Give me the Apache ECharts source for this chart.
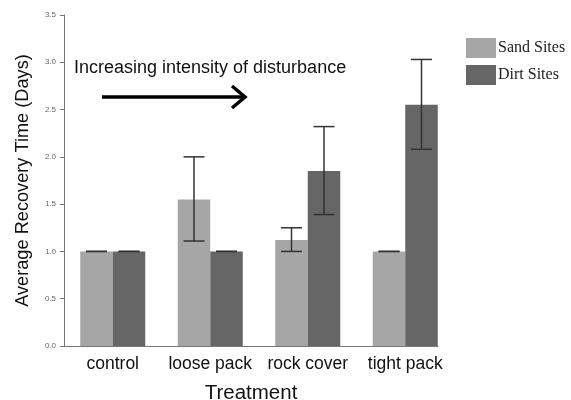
<!DOCTYPE html>
<html><head><meta charset="utf-8">
<script src="https://cdn.jsdelivr.net/npm/echarts@6/dist/echarts.min.js"></script>
<style>html,body{margin:0;padding:0;background:#fff}#c{width:571px;height:400px}</style>
</head><body><div id="c"></div>
<script>
const categories = ['control', 'loose pack', 'rock cover', 'tight pack'];
const sandValues = [1.0, 1.55, 1.12, 1.0];
const dirtValues = [1.0, 1.0, 1.85, 2.55];
const sandLow  = [1.0, 1.11, 1.0, 1.0];
const sandHigh = [1.0, 2.0, 1.25, 1.0];
const dirtLow  = [1.0, 1.0, 1.39, 2.08];
const dirtHigh = [1.0, 1.0, 2.32, 3.03];
const yTicks = [0, 0.5, 1.0, 1.5, 2.0, 2.5, 3.0, 3.5];

const font = 'Liberation Sans, Arial, sans-serif';

function errSeries(name, low, high, side) {
  return {
    type: 'custom', name: name + ' err', xAxisIndex: 0, yAxisIndex: 0, z: 5,
    data: categories.map((c, i) => [i, low[i], high[i]]),
    renderItem: function (params, api) {
      const bw = api.size([1, 0])[0];
      const off = side * bw / 6;
      const lo = api.coord([api.value(0), api.value(1)]);
      const hi = api.coord([api.value(0), api.value(2)]);
      const x = lo[0] + off, cap = 10.5;
      const st = {stroke: '#333', lineWidth: 1.5};
      return {type: 'group', children: [
        {type: 'line', shape: {x1: x, y1: lo[1], x2: x, y2: hi[1]}, style: st},
        {type: 'line', shape: {x1: x - cap, y1: lo[1], x2: x + cap, y2: lo[1]}, style: st},
        {type: 'line', shape: {x1: x - cap, y1: hi[1], x2: x + cap, y2: hi[1]}, style: st}
      ]};
    }
  };
}

const chart = echarts.init(document.getElementById('c'));
chart.setOption({
  animation: false,
  textStyle: {fontFamily: font},
  grid: [
    {left: 64, top: 15, width: 390, bottom: 54, containLabel: false, outerBoundsMode: 'none'},
    {left: 64, top: 15, width: 374, bottom: 54, containLabel: false, outerBoundsMode: 'none'}
  ],
  legend: {
    orient: 'vertical', left: 461, top: 33, itemWidth: 30, itemHeight: 20, itemGap: 7,
    icon: 'rect',
    data: ['Sand Sites', 'Dirt Sites'],
    textStyle: {fontFamily: 'Liberation Serif, serif', fontSize: 16, color: '#222', padding: [0, 0, 0, -3]}
  },
  xAxis: [
    {type: 'category', gridIndex: 0, data: categories,
     axisLine: {show: false}, axisTick: {show: false},
     axisLabel: {fontSize: 17.5, color: '#111', margin: 9, interval: 0, hideOverlap: false, fontFamily: font}},
    {type: 'value', gridIndex: 1, min: 0, max: 1, position: 'bottom',
     axisLine: {show: true, onZero: false, lineStyle: {color: '#777', width: 1}},
     axisTick: {show: false}, axisLabel: {show: false}, splitLine: {show: false},
     name: 'Treatment', nameLocation: 'middle', nameGap: 37,
     nameTextStyle: {fontSize: 20.5, color: '#111', fontFamily: font}}
  ],
  yAxis: [
    {type: 'value', gridIndex: 0, min: 0, max: 3.5, interval: 0.5,
     axisLine: {show: true, lineStyle: {color: '#777'}},
     axisTick: {show: true, length: 4, lineStyle: {color: '#777'}},
     splitLine: {show: false},
     axisLabel: {fontSize: 8, color: '#666', margin: 8, formatter: v => v.toFixed(1)},
     name: 'Average Recovery Time (Days)', nameLocation: 'middle', nameGap: 32,
     nameTextStyle: {fontSize: 18.2, color: '#111', fontFamily: font}},
    {type: 'value', gridIndex: 1, min: 0, max: 1, show: false}
  ],
  series: [
    {name: 'Sand Sites', type: 'bar', data: sandValues, barGap: '0%', barCategoryGap: '33.3%',
     itemStyle: {color: '#a6a6a6'}},
    {name: 'Dirt Sites', type: 'bar', data: dirtValues, barGap: '0%', barCategoryGap: '33.3%',
     itemStyle: {color: '#666666'}},
    errSeries('Sand Sites', sandLow, sandHigh, -1),
    errSeries('Dirt Sites', dirtLow, dirtHigh, 1)
  ],
  graphic: [
    {type: 'text', left: 74, top: 59, style: {text: 'Increasing intensity of disturbance', font: '18px ' + font, fill: '#111'}},
    {type: 'line', shape: {x1: 102, y1: 97, x2: 245, y2: 97}, style: {stroke: '#000', lineWidth: 3.5}},
    {type: 'polyline', shape: {points: [[232, 86], [245, 97], [232, 108]]}, style: {stroke: '#000', lineWidth: 3.5, fill: null}}
  ]
});
</script></body></html>
